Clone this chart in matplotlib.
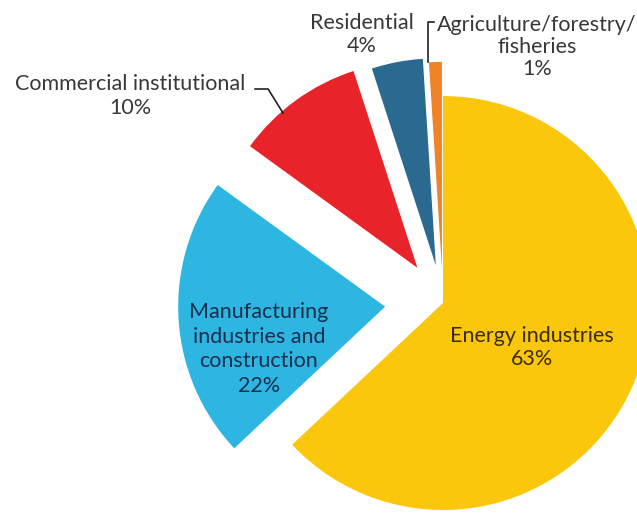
import matplotlib.pyplot as plt

# sector shares (%)
labels = ['Energy industries', 'Manufacturing\nindustries and\nconstruction',
          'Commercial institutional', 'Residential', 'Agriculture/forestry/\nfisheries']
shares = [63, 22, 10, 4, 1]
colors = ['#FAC70C', '#2DB6E2', '#E8232A', '#2A6990', '#F08327']
explode = [0, 0.28, 0.21, 0.185, 0.165]

plt.rcParams['font.family'] = ['Lato', 'DejaVu Sans']

fig = plt.figure(figsize=(6.37, 5.16), dpi=100)
ax = fig.add_axes([0, 0, 1, 1])
ax.pie(shares, colors=colors, explode=explode, startangle=90, counterclock=False,
       radius=1.0, wedgeprops=dict(linewidth=0))
ax.set_xlim(-2.14, 0.937)
ax.set_ylim(-1.029, 1.464)
ax.set_aspect('equal')
ax.axis('off')

fs = 15.5
grey = '#383838'
ax.text(-1.512, 1.0, labels[2] + '\n%d%%' % shares[2], ha='center', va='center',
        fontsize=fs, color=grey, linespacing=1.2)
ax.text(-0.391, 1.297, labels[3] + '\n%d%%' % shares[3], ha='center', va='center',
        fontsize=fs, color=grey, linespacing=1.2)
ax.text(0.454, 1.237, labels[4] + '\n%d%%' % shares[4], ha='center', va='center',
        fontsize=fs, color=grey, linespacing=1.15)
ax.text(-0.889, -0.222, labels[1] + '\n%d%%' % shares[1], ha='center', va='center',
        fontsize=fs, color='#1c2d4d', linespacing=1.3)
ax.text(0.43, -0.215, labels[0] + '\n%d%%' % shares[0], ha='center', va='center',
        fontsize=fs, color='#3d2c08', linespacing=1.2)

# leader lines
ax.plot([-0.908, -0.845, -0.773], [1.034, 1.034, 0.918], color='#222222', lw=1.2)
ax.plot([-0.043, -0.072, -0.072], [1.357, 1.357, 1.164], color='#222222', lw=1.2)

fig.savefig('out.png', dpi=100)
